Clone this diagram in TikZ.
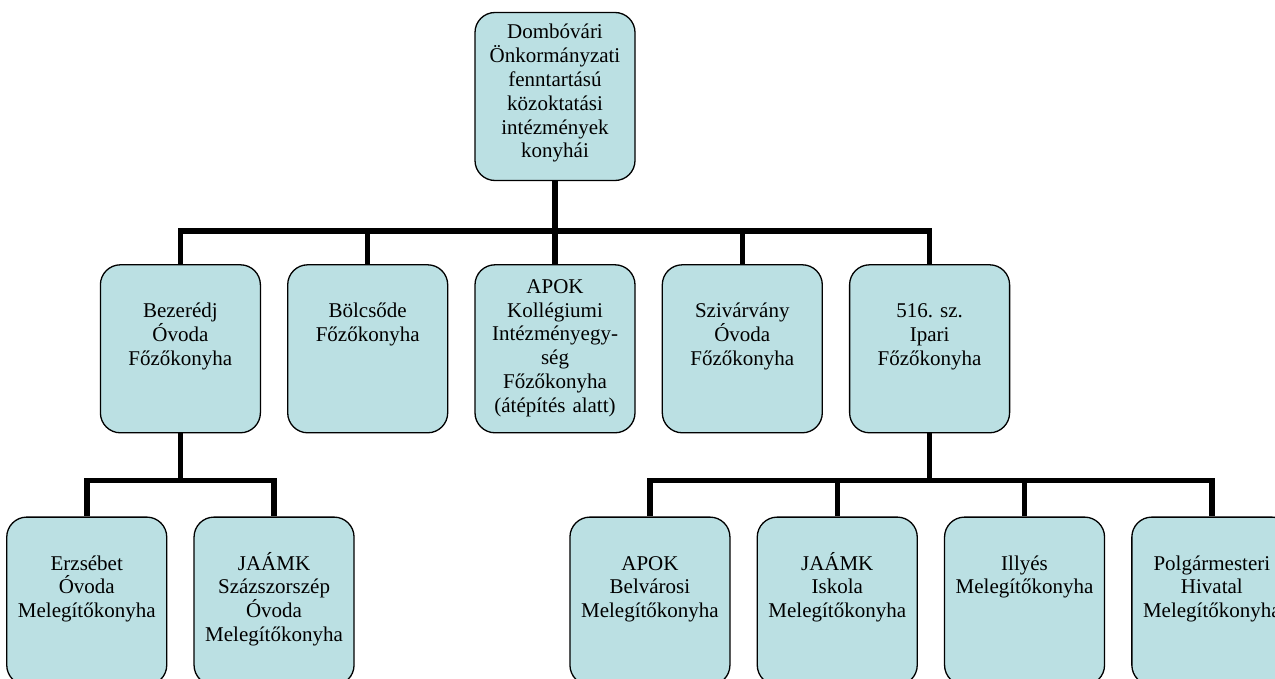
\documentclass[tikz,border=0pt]{standalone}
\usepackage{fontspec}
\setmainfont{Liberation Serif}
\usepackage{xcolor}
\usepackage{tikz}
\usetikzlibrary{positioning}

\definecolor{boxfill}{RGB}{187,224,227}
\frenchspacing

\begin{document}
\begin{tikzpicture}[
    node distance=83pt and 26pt,
    every node/.style={font=\fontsize{21}{23.8}\selectfont},
    box/.style={rectangle, rounded corners=20pt, draw=black, line width=1.3pt,
                minimum width=160pt, text width=152pt, inner sep=0pt,
                text height=53pt, text depth=115pt,
                align=center, fill=boxfill},
    link/.style={line width=5.5pt}
]
\useasboundingbox (0,0) rectangle (1275pt,-679pt);

% root
\node[box, text height=26.5pt, text depth=141.5pt] (top) at (555pt,-96.5pt)
    {Dombóvári\\Önkormányzati\\fenntartású\\közoktatási\\intézmények\\konyhái};

% second level
\node[box, below=of top, text height=28.5pt, text depth=139.5pt] (apok)
    {APOK\\Kollégiumi\\Intézményegy-\\ség\\Főzőkonyha\\(átépítés alatt)};
\node[box, left=of apok]        (bolcsode)   {Bölcsőde\\Főzőkonyha};
\node[box, left=of bolcsode]    (bezeredj)   {Bezerédj\\Óvoda\\Főzőkonyha};
\node[box, right=of apok]       (szivarvany) {Szivárvány\\Óvoda\\Főzőkonyha};
\node[box, right=of szivarvany] (ipari)      {516. sz.\\Ipari\\Főzőkonyha};

% third level, left
\node[box, below left=83pt and 13pt of bezeredj.south, anchor=north east] (erzsebet)
    {Erzsébet\\Óvoda\\Melegítőkonyha};
\node[box, right=of erzsebet] (szazszorszep)
    {JAÁMK\\Százszorszép\\Óvoda\\Melegítőkonyha};

% third level, right
\node[box, below left=83pt and 199pt of ipari.south, anchor=north east] (belvarosi)
    {APOK\\Belvárosi\\Melegítőkonyha};
\node[box, right=of belvarosi] (iskola)  {JAÁMK\\Iskola\\Melegítőkonyha};
\node[box, right=of iskola]    (illyes)  {Illyés\\Melegítőkonyha};
\node[box, right=of illyes]    (polgar)  {Polgármesteri\\Hivatal\\Melegítőkonyha};

% connectors
\foreach \c in {bezeredj,bolcsode,apok,szivarvany,ipari}
    \draw[link] (top.south) -- ++(0,-50pt) -| (\c.north);
\foreach \c in {erzsebet,szazszorszep}
    \draw[link] (bezeredj.south) -- ++(0,-47pt) -| (\c.north);
\foreach \c in {belvarosi,iskola,illyes,polgar}
    \draw[link] (ipari.south) -- ++(0,-47pt) -| (\c.north);
\end{tikzpicture}
\end{document}
